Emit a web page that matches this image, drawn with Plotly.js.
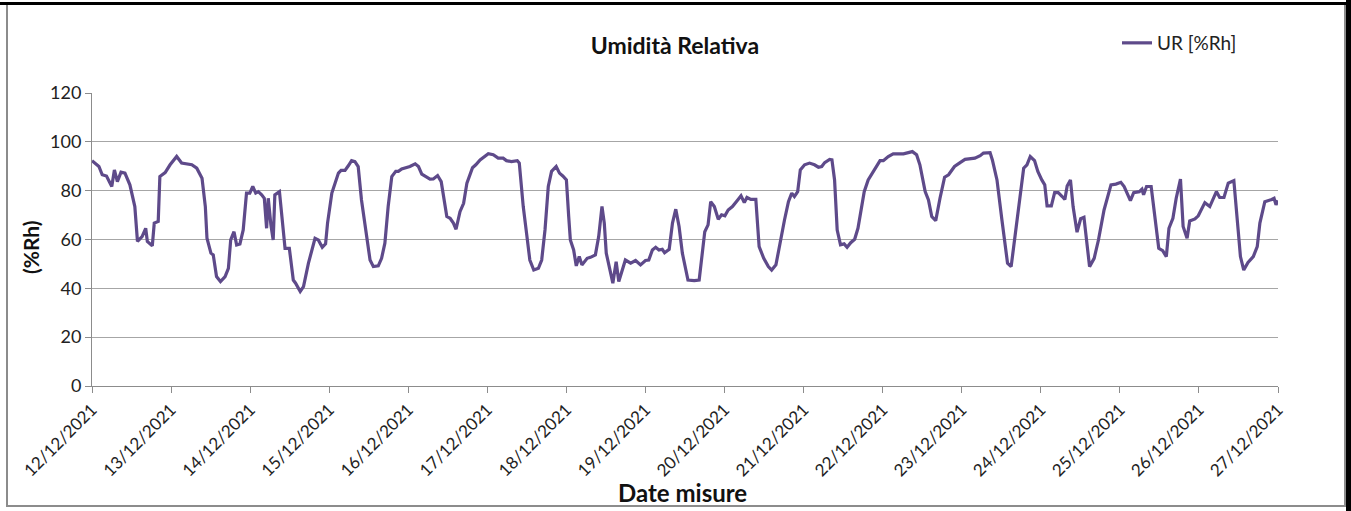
<!DOCTYPE html>
<html>
<head>
<meta charset="utf-8">
<script src="https://cdn.plot.ly/plotly-3.0.1.min.js"></script>
<style>
html,body{margin:0;padding:0;background:#fff;}
#wrap{position:relative;width:1351px;height:511px;overflow:hidden;background:#fff;}
#chart{position:absolute;left:0;top:0;width:1351px;height:511px;}
.frame{position:absolute;pointer-events:none;}
</style>
</head>
<body>
<div id="wrap">
<div id="chart"></div>
<div class="frame" style="left:0;top:2px;width:1351px;height:3px;background:#000;"></div>
<div class="frame" style="left:6px;top:5px;width:1336px;height:500px;border:2px solid #8c8c8c;border-top:none;"></div>
<div class="frame" style="left:1346px;top:0;width:5px;height:511px;background:#000;"></div>
</div>
<script>
// Hours elapsed since 12/12/2021 00:00
const hours = [0,2.1,3.1,4.4,6.0,6.8,7.7,8.8,10.0,11.5,13.0,13.8,15.2,16.3,16.8,18.3,18.9,20.1,20.6,22.2,23.7,25.7,27.2,30.3,31.8,33.4,34.4,34.9,36.1,36.8,37.8,39.0,40.4,41.4,42.1,43.1,43.9,44.9,45.9,46.9,47.9,48.8,49.7,50.5,51.5,52.3,53.0,53.5,54.3,55.0,55.5,56.9,58.6,59.9,61.1,61.8,63.2,64.2,65.7,67.7,68.7,69.9,70.9,71.5,72.8,74.8,75.6,76.8,77.8,78.8,79.8,80.8,81.8,83.4,84.4,85.4,86.9,87.9,88.9,89.9,91.0,92.2,93.0,94.0,95.5,96.5,98.1,99.1,100.1,101.1,102.6,103.6,104.9,106.0,106.7,107.7,108.7,109.7,110.5,111.7,112.8,113.8,115.5,116.5,117.8,119.3,
120.3,121.8,123.3,124.8,125.8,127.3,129.1,129.7,130.9,131.9,132.9,134.1,135.5,136.5,137.5,138.5,139.5,140.9,141.9,142.9,144.0,144.7,145.2,146.2,147.0,147.9,148.7,150.3,151.3,152.8,153.8,154.8,155.5,156.1,157.2,158.1,159.1,159.9,161.9,163.5,165.0,166.5,168.0,169.0,170.1,171.1,172.1,173.1,173.8,175.2,176.2,177.2,178.2,179.2,180.9,182.8,184.3,185.3,186.0,187.0,187.8,188.9,190.1,191.1,192.1,193.1,194.4,196.0,197.0,198.0,198.8,200.0,201.5,202.5,203.9,205.3,206.3,207.6,208.6,210.2,211.4,212.4,213.2,214.2,215.0,216.3,217.8,219.3,220.5,221.5,222.4,223.9,224.6,225.4,226.2,227.2,228.3,229.2,230.3,231.5,232.5,233.5,234.4,235.6,237.1,
239.2,240.2,241.7,243.2,246.3,247.8,249.0,250.3,251.3,252.9,253.9,254.9,256.1,257.4,258.8,260.0,261.8,263.5,265.0,268.0,269.6,270.6,272.6,273.3,274.7,276.2,277.9,279.0,280.1,281.3,282.8,283.8,284.8,286.1,287.1,288.3,289.2,289.9,291.2,292.2,293.3,294.5,295.3,296.0,297.0,297.8,299.0,300.1,301.1,302.8,304.2,305.5,307.2,309.3,310.8,312.3,313.3,315.2,316.2,317.9,318.7,319.2,320.1,321.5,322.8,323.8,325.0,326.1,326.9,328.1,329.1,330.4,331.2,332.4,333.2,334.8,335.8,336.8,337.8,339.3,340.3,341.3,342.3,343.6,344.9,346.6,347.9,348.6,349.6,350.9,352.5,353.7,354.5,356.0,358.1,358.8,359.4,360.0];
// Relative humidity UR [%Rh]
const urValues = [92.3,89.9,86.5,86.0,81.7,88.5,83.7,87.6,87.2,82.4,73.5,59.2,61.2,64.6,59.2,57.4,66.7,67.4,85.8,87.4,90.6,94.0,91.3,90.6,89.2,85.1,73.5,60.5,54.4,53.7,44.8,42.8,44.8,48.2,59.8,63.2,57.8,58.2,63.9,79.0,79.0,81.7,79.0,79.6,78.3,76.9,64.6,76.9,66.0,59.8,78.3,79.6,56.4,56.4,43.4,42.1,38.7,40.7,50.3,60.5,59.8,56.8,58.2,66.7,79.0,87.2,88.3,88.3,90.2,92.3,91.9,89.9,76.2,59.8,51.6,48.9,49.2,52.3,58.5,73.5,85.8,87.9,87.9,88.9,89.4,89.9,91.0,89.9,86.8,86.1,84.7,84.8,86.2,83.7,76.9,69.4,68.7,66.7,64.2,71.4,74.8,83.1,89.4,90.6,92.6,94.3,
95.1,94.7,93.3,93.3,92.3,91.9,92.3,91.3,73.5,62.6,51.6,47.5,48.2,51.6,63.9,81.7,87.9,89.9,87.2,86.0,84.4,69.4,59.8,55.7,49.2,53.0,49.6,52.3,52.7,53.7,61.2,73.5,66.7,54.4,46.8,42.1,50.9,42.8,51.6,50.3,51.4,49.6,51.4,51.6,55.7,56.8,55.7,56.0,54.6,56.0,66.7,72.4,65.3,54.4,43.4,43.2,43.4,54.4,63.2,66.0,75.5,73.5,68.3,70.1,69.7,72.1,73.5,76.2,77.9,75.1,77.2,76.4,76.4,57.1,52.3,48.9,47.5,49.6,57.1,68.0,75.5,79.0,77.6,79.6,88.5,90.6,91.3,90.6,89.6,89.9,91.5,92.8,92.6,84.4,63.9,57.8,58.2,56.8,58.7,60.1,64.6,73.5,79.6,84.4,87.9,
92.3,92.3,94.0,95.1,95.1,95.6,96.0,94.7,90.6,79.6,76.2,69.4,67.7,76.9,85.5,86.5,89.9,91.5,92.8,93.3,94.3,95.4,95.6,92.6,84.4,68.0,50.3,48.9,61.2,74.8,89.2,90.6,94.0,92.3,87.9,84.4,82.4,73.8,73.8,79.2,79.2,77.6,76.4,81.9,84.4,73.5,63.0,68.5,69.1,48.9,52.3,59.8,72.1,82.4,82.7,83.4,81.7,75.9,79.2,79.6,80.6,78.3,81.7,81.7,68.0,56.4,55.4,53.0,64.6,68.7,76.9,84.7,65.3,60.5,67.6,68.4,69.7,72.1,75.1,73.5,76.9,79.6,77.2,77.2,83.1,84.1,63.9,53.0,47.5,50.6,53.0,57.1,66.7,75.5,76.4,76.9,74.2,76.0];
const seriesName = 'UR [%Rh]';
const chartTitle = 'Umidità Relativa';
const xTitle = 'Date misure';
const yTitle = '(%Rh)';

function pad(n){return (n<10?'0':'')+n;}
function toDate(h){
  const d = new Date(Date.UTC(2021,11,12) + Math.round(h*3600)*1000);
  return d.getUTCFullYear()+'-'+pad(d.getUTCMonth()+1)+'-'+pad(d.getUTCDate())+' '+pad(d.getUTCHours())+':'+pad(d.getUTCMinutes())+':'+pad(d.getUTCSeconds());
}
const xDates = hours.map(toDate);

const FONT = 'Lato, Carlito, "Open Sans", sans-serif';
const trace = {
  x: xDates, y: urValues, type: 'scatter', mode: 'lines', name: seriesName,
  line: {color: '#5e4a8a', width: 3.2}
};
const layout = {
  width: 1351, height: 511,
  margin: {l: 92, r: 73, t: 93, b: 125, autoexpand: false},
  paper_bgcolor: '#ffffff', plot_bgcolor: '#ffffff',
  font: {family: FONT, size: 17, color: '#222'},
  title: {text: '<b>' + chartTitle + '</b>', x: 0.4996, xanchor: 'center', y: 1 - 46/511, yanchor: 'middle', font: {family: FONT, size: 23, color: '#111'}},
  showlegend: true,
  legend: {x: 1117/1351, y: 1 - 24/511, xref: 'container', yref: 'container', xanchor: 'left', yanchor: 'top', font: {family: FONT, size: 19, color: '#222'}, bgcolor: 'rgba(0,0,0,0)', itemwidth: 30},
  xaxis: {
    type: 'date', range: ['2021-12-12 00:00:00', '2021-12-27 00:00:00'],
    tick0: '2021-12-12', dtick: 86400000, tickformat: '%d/%m/%Y', tickangle: -45,
    showgrid: false, showline: true, linecolor: '#8c8c8c', linewidth: 1,
    ticks: 'outside', ticklen: 6, tickcolor: '#8c8c8c', tickfont: {family: FONT, size: 17, color: '#222'},
    zeroline: false
  },
  yaxis: {
    range: [0, 120], dtick: 20, tick0: 0,
    showgrid: true, gridcolor: '#a6a6a6', gridwidth: 1,
    showline: true, linecolor: '#8c8c8c', linewidth: 1,
    ticks: 'outside', ticklen: 6, tickcolor: '#8c8c8c', tickfont: {family: FONT, size: 18, color: '#222'},
    zeroline: false
  },
  annotations: [
    {text: '<b>' + xTitle + '</b>', xref: 'paper', yref: 'paper', x: (682-92)/1186, y: -(492-386)/293, xanchor: 'center', yanchor: 'middle', showarrow: false, font: {family: FONT, size: 24, color: '#111'}},
    {text: '<b>' + yTitle + '</b>', xref: 'paper', yref: 'paper', x: -(92-30)/1186, y: (386-247)/293, xanchor: 'center', yanchor: 'middle', textangle: -90, showarrow: false, font: {family: FONT, size: 21, color: '#111'}}
  ]
};
Plotly.newPlot('chart', [trace], layout, {displayModeBar: false, staticPlot: true});
</script>
</body>
</html>
